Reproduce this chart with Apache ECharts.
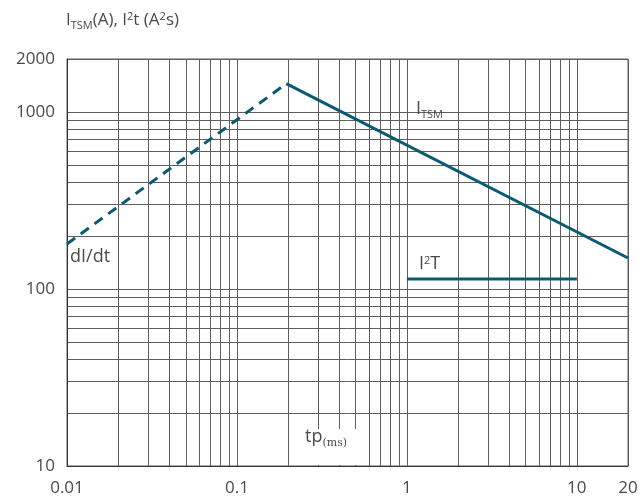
<!DOCTYPE html>
<html>
<head>
<meta charset="utf-8">
<script src="https://cdn.jsdelivr.net/npm/echarts@6/dist/echarts.min.js"></script>
<style>html,body{margin:0;padding:0;background:#fff}#c{width:643px;height:503px}</style>
</head>
<body>
<div id="c"></div>
<script>
// ---- data ----
const xLabelValues = [0.01, 0.1, 1, 10, 20];
const xTickLabels = ['0.01', '0.1', '1', '10', '20'];
const yLabelValues = [10, 100, 1000, 2000];
const yTickLabels = ['10', '100', '1000', '2000'];
const xGridValues = [0.01,0.02,0.03,0.04,0.05,0.06,0.07,0.08,0.09,
                     0.1,0.2,0.3,0.4,0.5,0.6,0.7,0.8,0.9,
                     1,2,3,4,5,6,7,8,9,10,20];
const yGridValues = [10,20,30,40,50,60,70,80,90,
                     100,200,300,400,500,600,700,800,900,1000,2000];
// dI/dt (dashed rising part)
const didtT = [0.01, 0.195];
const didtI = [180, 1450];
// I_TSM (falling part)
const itsmT = [0.195, 20];
const itsmI = [1450, 150];
// I2T
const i2tT = [1, 10];
const i2tV = [114, 114];

const LINE = '#0b5a74';
const TXT = '#4a4a4a';
const GRID = '#5e5e5e';
const FONT = '"Open Sans", "Noto Sans", sans-serif';

function pair(xs, ys) { return xs.map((x, i) => [x, ys[i]]); }
function lookup(vals, labels) {
  return function (v) {
    let best = 0, bd = Infinity;
    vals.forEach((c, i) => { const d = Math.abs(Math.log10(v) - Math.log10(c)); if (d < bd) { bd = d; best = i; } });
    return bd < 1e-6 ? labels[best] : '';
  };
}
function richSet(size) {
  return {
    a: {fontSize: size, fontFamily: FONT, fill: TXT, lineHeight: 24, verticalAlign: 'middle'},
    s: {fontSize: 11, fontFamily: FONT, fill: TXT, lineHeight: 11, verticalAlign: 'bottom', padding: [0, 0, 1, 0]},
    p: {fontSize: 11, fontFamily: FONT, fill: TXT, lineHeight: 11, verticalAlign: 'top', padding: [3, 0, 0, 0]},
    r: {fontSize: 11, fontFamily: '"DejaVu Serif", "Liberation Serif", serif', fill: TXT, lineHeight: 11, verticalAlign: 'bottom'}
  };
}

const chart = echarts.init(document.getElementById('c'), null, {renderer: 'canvas'});
chart.setOption({
  animation: false,
  backgroundColor: '#fff',
  grid: {left: 67, right: 15, top: 59, bottom: 37, show: true, borderColor: GRID, borderWidth: 1},
  xAxis: {
    type: 'log', logBase: 10, min: 0.01, max: 20,
    axisLine: {show: true, lineStyle: {color: '#333', width: 1}},
    axisTick: {show: false, customValues: xGridValues},
    splitLine: {show: true, lineStyle: {color: GRID, width: 1}},
    minorTick: {show: false}, minorSplitLine: {show: false},
    axisLabel: {customValues: xLabelValues, formatter: lookup(xLabelValues, xTickLabels),
      color: TXT, fontSize: 17, fontFamily: FONT, margin: 14}
  },
  yAxis: {
    type: 'log', logBase: 10, min: 10, max: 2000,
    axisLine: {show: true, lineStyle: {color: '#333', width: 1}},
    axisTick: {show: false, customValues: yGridValues},
    splitLine: {show: true, lineStyle: {color: GRID, width: 1}},
    minorTick: {show: false}, minorSplitLine: {show: false},
    axisLabel: {customValues: yLabelValues, formatter: lookup(yLabelValues, yTickLabels),
      color: TXT, fontSize: 17, fontFamily: FONT, margin: 12}
  },
  series: [
    {name: 'dI/dt', type: 'line', data: pair(didtT, didtI), symbol: 'none', z: 5,
     lineStyle: {color: LINE, width: 3, type: [10, 7]}},
    {name: 'ITSM', type: 'line', data: pair(itsmT, itsmI), symbol: 'none', z: 5,
     lineStyle: {color: LINE, width: 3}},
    {name: 'I2T', type: 'line', data: pair(i2tT, i2tV), symbol: 'none', z: 5,
     lineStyle: {color: LINE, width: 3}}
  ],
  graphic: [
    {type: 'text', left: 66, top: 8, z: 10,
     style: {text: '{a|I}{s|TSM}{a|(A), I}{p|2}{a|t (A}{p|2}{a|s)}', rich: richSet(17)}},
    {type: 'text', left: 416, top: 100, z: 10,
     style: {text: '{a|I}{s|TSM}', rich: richSet(18)}},
    {type: 'text', left: 419, top: 252, z: 10,
     style: {text: '{a|I}{p|2}{a|T}', rich: richSet(18)}},
    {type: 'text', left: 70, top: 248, z: 10,
     style: {text: 'dI/dt', fontSize: 18, fontFamily: FONT, fill: TXT}},
    {type: 'rect', shape: {x: 298, y: 429, width: 64, height: 36}, z: 3, style: {fill: '#fff'}},
    {type: 'text', left: 305, top: 428, z: 10,
     style: {text: '{a|tp}{r|(ms)}', rich: richSet(18)}}
  ]
});
</script>
</body>
</html>
